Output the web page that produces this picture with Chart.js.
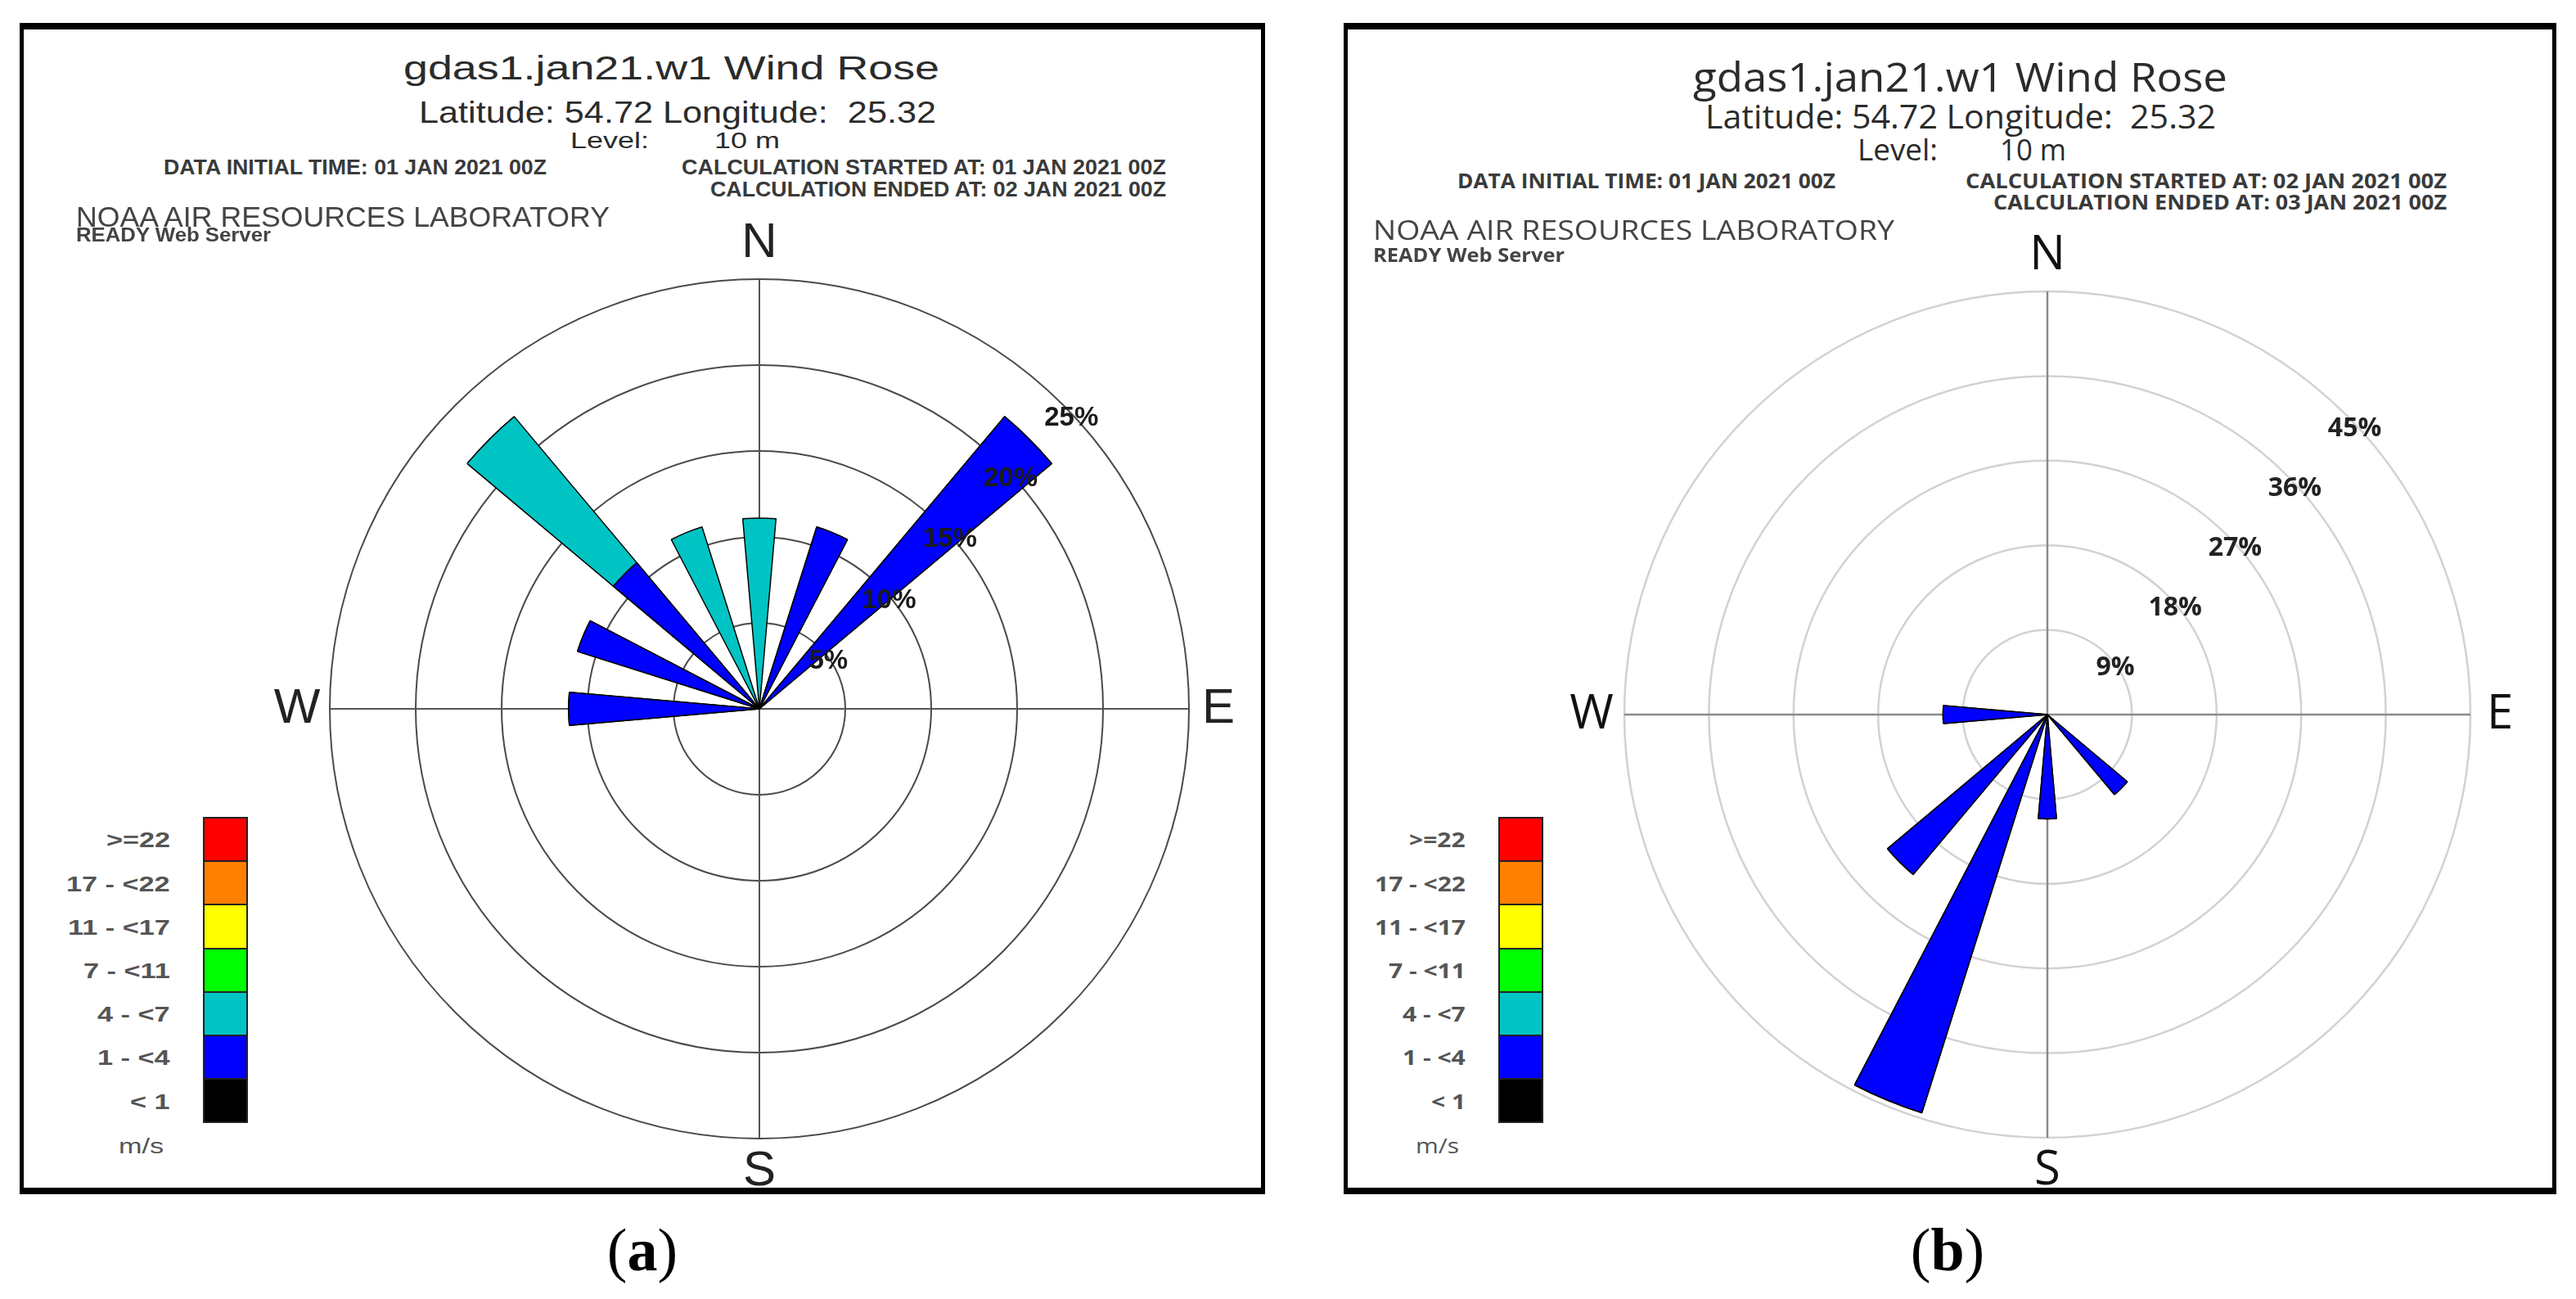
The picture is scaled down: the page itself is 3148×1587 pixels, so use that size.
<!DOCTYPE html>
<html>
<head>
<meta charset="utf-8">
<script src="https://cdn.jsdelivr.net/npm/chart.js@4.4.1/dist/chart.umd.min.js"></script>
<style>
  body { margin: 0; width: 3148px; height: 1587px; background: #fff; position: relative; overflow: hidden; }
  .panel { position: absolute; box-sizing: border-box; border: 5px solid #000; border-top-width: 8px; border-bottom-width: 8px; }
  .txt { position: absolute; white-space: pre; }
  .swatch { position: absolute; box-sizing: border-box; border: 2px solid #222; }
  canvas { position: absolute; }
</style>
</head>
<body>
<div class="panel" style="left:24px;top:28px;width:1522px;height:1431px"></div>
<div class="panel" style="left:1642px;top:28px;width:1482px;height:1431px"></div>
<canvas id="roseA" width="1200" height="1200" style="left:328px;top:266px"></canvas>
<canvas id="roseB" width="1200" height="1200" style="left:1902px;top:273px"></canvas>
<script>
// 16 compass sectors, clockwise from north
const directions = ['N', 'NNE', 'NE', 'ENE', 'E', 'ESE', 'SE', 'SSE', 'S', 'SSW', 'SW', 'WSW', 'W', 'WNW', 'NW', 'NNW'];

// speed classes in m/s, top of legend first
const speedLabels = ['>=22', '17 - <22', '11 - <17', '7 - <11', '4 - <7', '1 - <4', '< 1'];
const speedColors = ['#ff0000', '#ff8000', '#ffff00', '#00ff00', '#00c4c4', '#0000ff', '#000000'];

// (a) 01 JAN -> 02 JAN, frequency in %
const roseASpeed1to4 = [0, 11.1, 22.2, 0, 0, 0, 0, 0, 0, 0, 0, 0, 11.1, 11.1, 11.1, 0];
const roseASpeed4to7 = [11.1, 0, 0, 0, 0, 0, 0, 0, 0, 0, 0, 0, 0, 0, 11.1, 11.1];

// (b) 02 JAN -> 03 JAN, frequency in %
const roseBSpeed1to4 = [0, 0, 0, 0, 0, 0, 11.1, 0, 11.1, 44.4, 22.2, 0, 11.1, 0, 0, 0];
const roseBSpeed4to7 = [0, 0, 0, 0, 0, 0, 0, 0, 0, 0, 0, 0, 0, 0, 0, 0];

// ring ticks
const roseATicks = [5, 10, 15, 20, 25];
const roseBTicks = [9, 18, 27, 36, 45];

// baseline offset for line-height:1 boxes
const baselineRatio = { 'Liberation Sans': 0.8465, 'Open Sans': 0.888, 'Liberation Serif': 0.8375 };

function addText(str, o) {
  const el = document.createElement('div');
  el.className = 'txt';
  el.textContent = str;
  el.style.font = (o.weight || 'normal') + ' ' + o.size + 'px "' + o.family + '"';
  el.style.lineHeight = '1';
  el.style.color = o.color || '#2b2b2b';
  document.body.appendChild(el);
  const w = el.getBoundingClientRect().width;
  let k = o.scale || 1;
  if (o.x1 !== undefined) k = (o.x1 - o.x0) / w;
  let left = o.x0;
  if (o.right !== undefined) left = o.right - w * k;
  el.style.left = left + 'px';
  el.style.top = (o.y - baselineRatio[o.family] * o.size) + 'px';
  el.style.transformOrigin = '0 0';
  el.style.transform = 'scaleX(' + k + ')';
}

// headers
const fa = 'Liberation Sans', fb = 'Open Sans';
addText('gdas1.jan21.w1 Wind Rose', { family: fa, size: 40, x0: 493, x1: 1148, y: 97 });
addText('Latitude: 54.72 Longitude:  25.32', { family: fa, size: 37, x0: 512, x1: 1144, y: 150 });
addText('Level:', { family: fa, size: 28, x0: 697, x1: 793, y: 182 });
addText('10 m', { family: fa, size: 28, x0: 873, x1: 953, y: 182 });
addText('DATA INITIAL TIME: 01 JAN 2021 00Z', { family: fa, size: 25, weight: 'bold', x0: 200, x1: 668, y: 213, color: '#3a3a3a' });
addText('CALCULATION STARTED AT: 01 JAN 2021 00Z', { family: fa, size: 25, weight: 'bold', x0: 833, x1: 1425, y: 213, color: '#3a3a3a' });
addText('CALCULATION ENDED AT: 02 JAN 2021 00Z', { family: fa, size: 25, weight: 'bold', x0: 868, x1: 1425, y: 240, color: '#3a3a3a' });
addText('NOAA AIR RESOURCES LABORATORY', { family: fa, size: 35, x0: 93, x1: 745, y: 277, color: '#444' });
addText('READY Web Server', { family: fa, size: 23, weight: 'bold', x0: 93, x1: 331, y: 295, color: '#444' });

addText('gdas1.jan21.w1 Wind Rose', { family: fb, size: 50, x0: 2069, x1: 2722, y: 112 });
addText('Latitude: 54.72 Longitude:  25.32', { family: fb, size: 40, x0: 2084, x1: 2708, y: 158 });
addText('Level:', { family: fb, size: 36, x0: 2270, x1: 2368, y: 197 });
addText('10 m', { family: fb, size: 36, x0: 2444, x1: 2525, y: 197 });
addText('DATA INITIAL TIME: 01 JAN 2021 00Z', { family: fb, size: 25, weight: 'bold', x0: 1781, x1: 2243, y: 230, color: '#3a3a3a' });
addText('CALCULATION STARTED AT: 02 JAN 2021 00Z', { family: fb, size: 25, weight: 'bold', x0: 2402, x1: 2990, y: 230, color: '#3a3a3a' });
addText('CALCULATION ENDED AT: 03 JAN 2021 00Z', { family: fb, size: 25, weight: 'bold', x0: 2436, x1: 2990, y: 256, color: '#3a3a3a' });
addText('NOAA AIR RESOURCES LABORATORY', { family: fb, size: 32, x0: 1678, x1: 2315, y: 293, color: '#444' });
addText('READY Web Server', { family: fb, size: 23, weight: 'bold', x0: 1678, x1: 1912, y: 320, color: '#444' });

// speed legends
function addLegend(barLeft, family, scale) {
  const top = 998, h = 53.2;
  speedLabels.forEach((lab, i) => {
    const sw = document.createElement('div');
    sw.className = 'swatch';
    sw.style.left = barLeft + 'px';
    sw.style.top = (top + i * h) + 'px';
    sw.style.width = '55px';
    sw.style.height = (h + 2) + 'px';
    sw.style.background = speedColors[i];
    document.body.appendChild(sw);
    addText(lab, { family, size: 25, weight: 'bold', right: barLeft - 40, scale, y: top + (i + 0.5) * h + 11, color: '#555' });
  });
  addText('m/s', { family, size: 25, right: barLeft - 48, scale, y: 1409, color: '#555' });
}
addLegend(248, fa, 1.37);
addLegend(1831, fb, 1.2);

// captions
function addCaption(letter, cx) {
  const el = document.createElement('div');
  el.className = 'txt';
  el.style.font = '74px "Liberation Serif"';
  el.style.lineHeight = '1';
  el.style.color = '#000';
  el.innerHTML = '(<b>' + letter + '</b>)';
  document.body.appendChild(el);
  const w = el.getBoundingClientRect().width;
  el.style.left = (cx - w / 2) + 'px';
  el.style.top = (1552 - 0.8375 * 74) + 'px';
}
addCaption('a', 785);
addCaption('b', 2380);

// axes cross, ring labels and compass letters
const roseDecor = {
  id: 'roseDecor',
  beforeDatasetsDraw(chart, args, opts) {
    const r = chart.scales.r, ctx = chart.ctx;
    const R = r.drawingArea, cx = r.xCenter, cy = r.yCenter;
    ctx.save();
    ctx.strokeStyle = opts.axisColor;
    ctx.lineWidth = opts.axisWidth;
    ctx.beginPath();
    ctx.moveTo(cx, cy - R); ctx.lineTo(cx, cy + R);
    ctx.moveTo(cx - R, cy); ctx.lineTo(cx + R, cy);
    ctx.stroke();
    ctx.restore();
  },
  afterDatasetsDraw(chart, args, opts) {
    const r = chart.scales.r, ctx = chart.ctx;
    const R = r.drawingArea, cx = r.xCenter, cy = r.yCenter;
    ctx.save();
    ctx.textAlign = 'center';
    ctx.textBaseline = 'middle';
    ctx.font = opts.tickFont;
    ctx.fillStyle = opts.tickColor;
    opts.ticks.forEach(v => {
      const d = r.getDistanceFromCenterForValue(v) * Math.SQRT1_2;
      ctx.fillText(v + '%', cx + d + 10, cy - d + 16);
    });
    ctx.font = opts.compassFont;
    ctx.fillStyle = opts.compassColor;
    const g = R + opts.compassGap;
    ctx.fillText('N', cx, cy - g - 4);
    ctx.fillText('E', cx + g - 4, cy);
    ctx.fillText('S', cx, cy + g);
    ctx.fillText('W', cx - g, cy);
    ctx.restore();
  }
};

function makeRose(id, slow, fast, ticks, look) {
  const labels = [], slowData = [], totalData = [];
  directions.forEach((d, i) => {
    labels.push(d, '');
    slowData.push(slow[i], 0);
    totalData.push(slow[i] + fast[i], 0);
  });
  const wedge = {
    angle: c => (c.dataIndex % 2 === 0 ? 10 : 12.5),
    borderColor: '#000',
    borderWidth: c => (c.raw > 0 ? 1.5 : 0)
  };
  return new Chart(document.getElementById(id), {
    type: 'polarArea',
    data: {
      labels: labels,
      datasets: [
        Object.assign({ label: speedLabels[5], data: slowData, backgroundColor: speedColors[5] }, wedge),
        Object.assign({ label: speedLabels[4], data: totalData, backgroundColor: speedColors[4] }, wedge)
      ]
    },
    options: {
      responsive: false,
      animation: false,
      events: [],
      layout: { padding: look.pad },
      plugins: {
        legend: { display: false },
        tooltip: { enabled: false },
        roseDecor: look.decor
      },
      scales: {
        r: {
          min: 0,
          max: ticks[ticks.length - 1],
          startAngle: -5,
          ticks: { display: false, stepSize: ticks[0] },
          grid: { circular: true, color: look.ringColor, lineWidth: look.ringWidth },
          angleLines: { display: false },
          pointLabels: { display: false }
        }
      }
    },
    plugins: [roseDecor]
  });
}

makeRose('roseA', roseASpeed1to4, roseASpeed4to7, roseATicks, {
  pad: 75, ringColor: '#4a4a4a', ringWidth: 2,
  decor: { ticks: roseATicks, axisColor: '#555', axisWidth: 2,
    tickFont: 'bold 33px "Liberation Sans"', tickColor: '#1a1a1a',
    compassFont: '60px "Liberation Sans"', compassColor: '#222', compassGap: 40 }
});
makeRose('roseB', roseBSpeed1to4, roseBSpeed4to7, roseBTicks, {
  pad: 83, ringColor: '#d2d2d2', ringWidth: 2.5,
  decor: { ticks: roseBTicks, axisColor: '#8a8a8a', axisWidth: 2.5,
    tickFont: 'bold 32px "Open Sans"', tickColor: '#222',
    compassFont: '58px "Open Sans"', compassColor: '#111', compassGap: 40 }
});
</script>
</body>
</html>
